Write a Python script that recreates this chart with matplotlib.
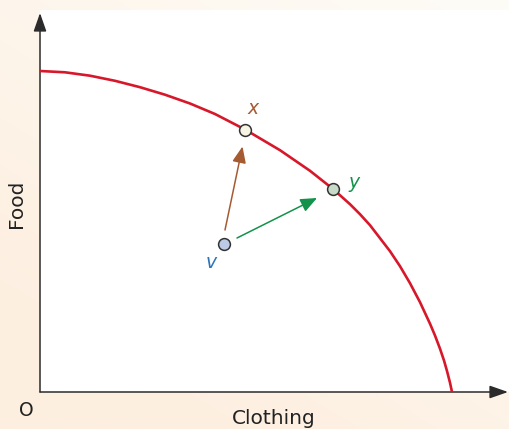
import numpy as np
import matplotlib
matplotlib.use('Agg')
import matplotlib.pyplot as plt

#Production possibility frontier (clothing, food)
ppf_clothing = [0, 25, 50, 75, 100, 125, 150, 175, 205, 240, 270, 293, 310, 320, 330,
                340, 350, 360, 370, 380, 390, 395, 400, 404, 407, 410, 412]
ppf_food = [321, 319.7, 316.3, 311.2, 304.8, 297.3, 288.5, 278, 262.5, 241.8, 221.2, 203,
            187.8, 177.8, 166.8, 153.8, 140.8, 125.8, 108.8, 89.8, 68.3, 56.5, 43.3, 31.5,
            21, 9.3, 0]

#Named points on the diagram
point_names = ['x', 'y', 'v']
point_clothing = [205, 293, 184]
point_food = [262.5, 203, 148]
point_faces = ['#F7F6E4', '#C7DBC8', '#BDCAE6']
label_colors = ['#A65A32', '#12924A', '#2A74B8']
label_offsets = [(8, 21), (21, 7), (-13, -19)]

#Moves from v toward x and toward y
move_start = [(185, 162), (197, 154)]
move_end = [(202.5, 245.5), (277, 194)]
move_colors = ['#A65A32', '#12924A']

fig = plt.figure(figsize=(5.09, 4.29), dpi=100)

#Peach background, lighter toward the top right
bg = fig.add_axes([0, 0, 1, 1])
gx, gy = np.meshgrid(np.linspace(0, 1, 200), np.linspace(0, 1, 200))
t = np.clip((1 - gx) * 0.5 + gy * 0.7, 0, 1)
c0 = np.array([254, 252, 247]) / 255.0
c1 = np.array([253, 239, 224]) / 255.0
img = c0[None, None, :] * (1 - t[..., None]) + c1[None, None, :] * t[..., None]
bg.imshow(img, extent=[0, 1, 0, 1], aspect='auto')
bg.axis('off')

ax = fig.add_axes([40 / 509, 37 / 429, 469 / 509, 382 / 429])
ax.set_facecolor('white')
ax.set_xlim(0, 469)
ax.set_ylim(0, 382)
for s in ax.spines.values():
    s.set_visible(False)
ax.set_xticks([])
ax.set_yticks([])

#axes with arrow heads
axis_style = dict(arrowstyle='-|>,head_length=0.8,head_width=0.28', color='#2b2b2b',
                  lw=1.1, mutation_scale=14, shrinkA=0, shrinkB=0)
ax.annotate('', xy=(468, 0), xytext=(0, 0), arrowprops=axis_style, annotation_clip=False)
ax.annotate('', xy=(0, 379), xytext=(0, 0), arrowprops=axis_style, annotation_clip=False)

ax.plot(ppf_clothing, ppf_food, color='#D7182A', lw=1.9, solid_capstyle='butt',
        solid_joinstyle='round', zorder=3)

for i in range(len(move_start)):
    ax.annotate('', xy=move_end[i], xytext=move_start[i],
                arrowprops=dict(arrowstyle='-|>,head_length=0.9,head_width=0.38',
                                color=move_colors[i], lw=1.1, mutation_scale=11,
                                shrinkA=0, shrinkB=0), zorder=4)

for i in range(len(point_names)):
    ax.plot(point_clothing[i], point_food[i], 'o', ms=8.5, mfc=point_faces[i],
            mec='#333333', mew=1.1, zorder=5)
    ax.text(point_clothing[i] + label_offsets[i][0], point_food[i] + label_offsets[i][1],
            point_names[i], color=label_colors[i], fontsize=13.5, style='italic',
            ha='center', va='center', zorder=6)

ax.text(-14, -18, 'O', fontsize=13.5, color='#222222', ha='center', va='center')
ax.text(234, -27, 'Clothing', fontsize=14.5, color='#222222', ha='center', va='center')
ax.text(-23, 188, 'Food', fontsize=14.5, color='#222222', ha='center', va='center',
        rotation=90)

plt.savefig('out.png', dpi=100)
